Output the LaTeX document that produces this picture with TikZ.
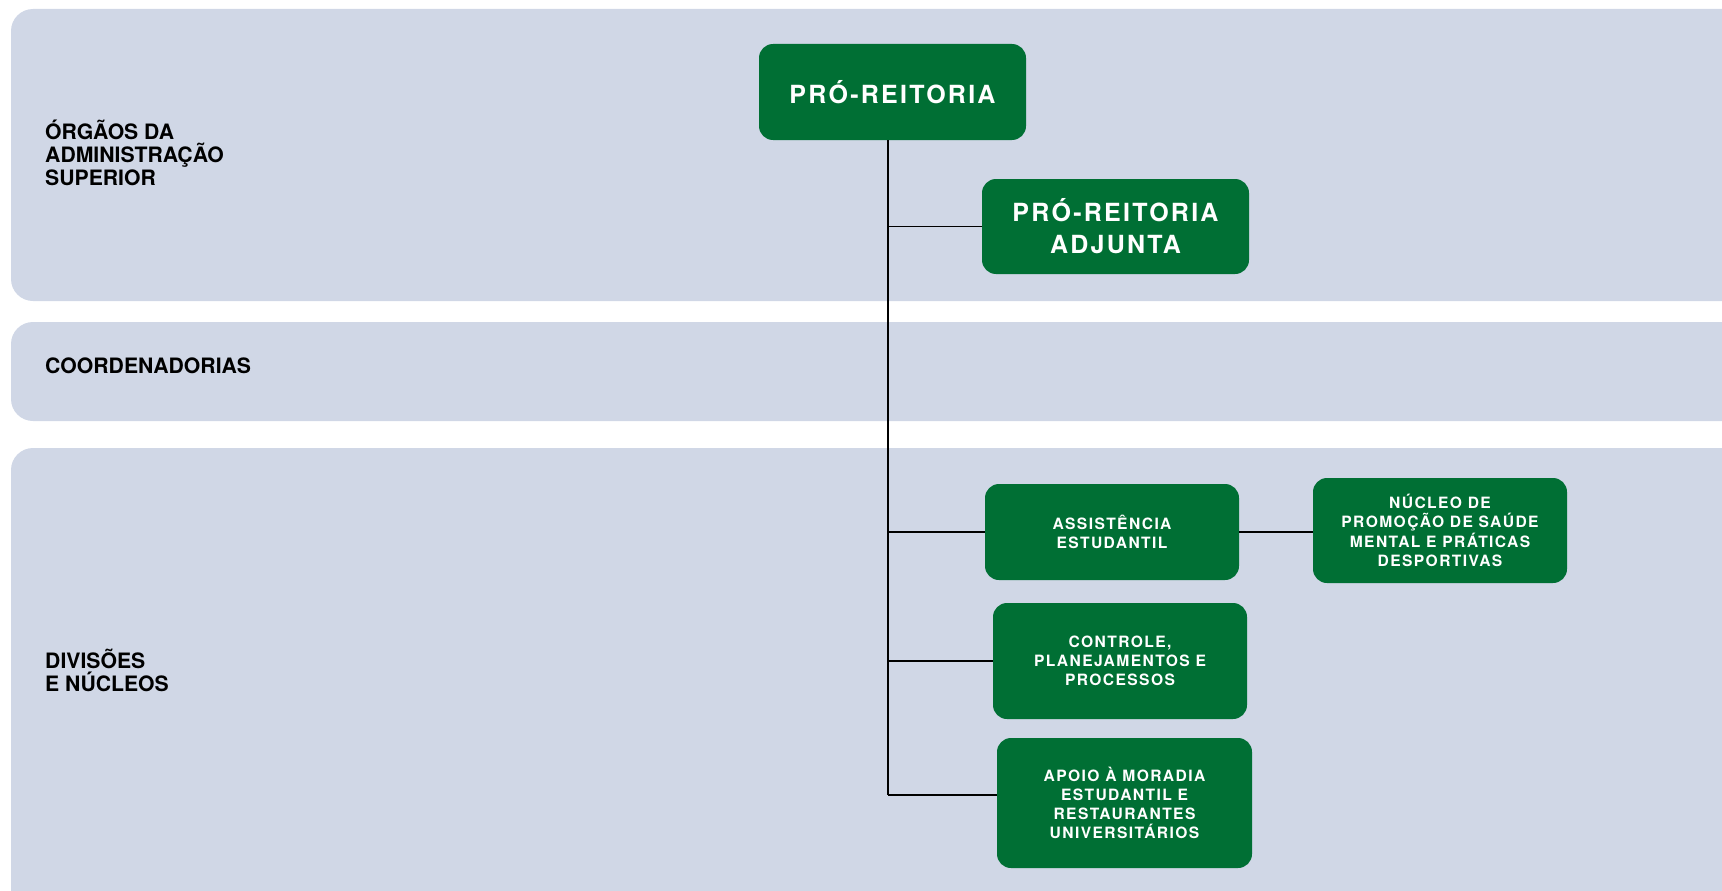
\documentclass[tikz,border=0pt]{standalone}
\usepackage{fontspec}
\setmainfont{TeX Gyre Heros}
\newfontfamily\boxfont[LetterSpace=9]{TeX Gyre Heros}
\definecolor{bandblue}{RGB}{208,215,230}
\definecolor{unitgreen}{RGB}{0,111,52}

\begin{document}
\begin{tikzpicture}[x=1pt,y=-1pt,
        band/.style={fill=bandblue, rounded corners=22pt},
        level/.style={anchor=west, align=left, inner sep=0pt, font=\fontsize{21.2}{23}\selectfont\bfseries},
        unit/.style={fill=unitgreen, rounded corners=14pt, text=white, align=center, inner sep=0pt,
        font=\boxfont\fontsize{15.6}{19.2}\selectfont\bfseries},
        bigunit/.style={unit, font=\boxfont\fontsize{25}{32}\selectfont\bfseries},
        link/.style={draw=black, line width=1.4pt}]
    \useasboundingbox (0,0) rectangle (1722,891);
    \clip (0,0) rectangle (1722,891);
    % faixas
    \fill[band] (11,9) rectangle (1780,301);
    \fill[band] (11,322) rectangle (1780,421);
    \fill[band] (11,448) rectangle (1780,940);
    \node[level] (sup) at (45,153) {ÓRGÃOS DA\\ADMINISTRAÇÃO\\SUPERIOR};
    \node[level] (coord) at (45,366) {COORDENADORIAS};
    \node[level] (div) at (45,670) {DIVISÕES\\E NÚCLEOS};
    % unidades
    \node[bigunit, minimum width=267pt, minimum height=96pt] (pro) at (892.5,92) {PRÓ-REITORIA};
    \node[bigunit, minimum width=267pt, minimum height=95pt] (adj) at (1115.5,226.5) {PRÓ-REITORIA\\ADJUNTA};
    \node[unit, minimum width=254pt, minimum height=96pt] (assist) at (1112,532) {ASSISTÊNCIA\\ESTUDANTIL};
    \node[unit, minimum width=254pt, minimum height=105pt] (nucleo) at (1440,530.5) {NÚCLEO DE\\PROMOÇÃO DE SAÚDE\\MENTAL E PRÁTICAS\\DESPORTIVAS};
    \node[unit, minimum width=254pt, minimum height=116pt] (ctrl) at (1120,661) {CONTROLE,\\PLANEJAMENTOS E\\PROCESSOS};
    \node[unit, minimum width=255pt, minimum height=130pt] (apoio) at (1124.5,803) {APOIO À MORADIA\\ESTUDANTIL E\\RESTAURANTES\\UNIVERSITÁRIOS};
    % ligações
    \coordinate (trunkend) at (888,795);
    \draw[link] (pro.south -| trunkend) -- (trunkend);
    \draw[link] (trunkend |- adj.west) -- (adj.west);
    \draw[link] (trunkend |- assist.west) -- (assist.west);
    \draw[link] (trunkend |- ctrl.west) -- (ctrl.west);
    \draw[link] (trunkend) -- (trunkend -| apoio.west);
    \draw[link] (assist.east) -- (assist.east -| nucleo.west);
\end{tikzpicture}
\end{document}
